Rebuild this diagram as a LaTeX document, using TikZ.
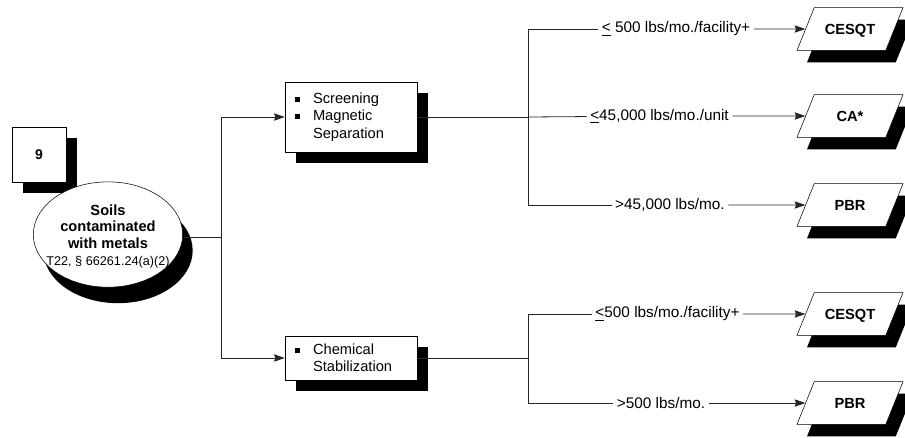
\documentclass[tikz,border=0pt]{standalone}
\usepackage{fontspec}
\setmainfont{Liberation Sans}
\usepackage{tikz}
\usetikzlibrary{arrows.meta, shapes.geometric, shadows}

\newcommand{\bul}{\makebox[13.5pt][l]{\rule[0.25ex]{3.5pt}{3.5pt}}}
\newcommand{\nobul}{\hspace*{13.5pt}}

\begin{document}
\begin{tikzpicture}[
    x=0.75pt, y=-0.75pt,
    blackshadow/.style={drop shadow={shadow xshift=8pt, shadow yshift=-8pt, fill=black, opacity=1}},
    line/.style={draw=black!85, line width=0.6pt},
    arrow/.style={line, -{Stealth[length=8pt, width=5.5pt, inset=1pt]}},
    numbox/.style={rectangle, draw, fill=white, blackshadow, minimum width=40.5pt, minimum height=41pt, font=\bfseries\fontsize{10.5}{12}\selectfont},
    blob/.style={ellipse, draw, fill=white, minimum width=112pt, minimum height=79pt, inner sep=0pt,
        drop shadow={shadow xshift=7.5pt, shadow yshift=-12pt, fill=black, opacity=1}},
    blobtext/.style={align=center, inner sep=0pt, font=\bfseries\fontsize{11}{12.5}\selectfont},
    box/.style={rectangle, draw, fill=white, blackshadow, text width=84pt, inner xsep=7.5pt, inner ysep=0pt, align=left, font=\fontsize{11}{13}\selectfont},
    para/.style={trapezium, trapezium left angle=68, trapezium right angle=112, trapezium stretches body=true, draw, fill=white,
        inner ysep=0pt, text height=20pt, text depth=12pt, minimum width=79.5pt, font=\bfseries\fontsize{11}{13}\selectfont,
        drop shadow={shadow xshift=7.5pt, shadow yshift=-9pt, fill=black, opacity=1}},
    lbl/.style={inner xsep=2.5pt, inner ysep=1pt, font=\fontsize{11.5}{13}\selectfont}
]
\useasboundingbox (0,0) rectangle (905,437);

% Waste stream
\node (num) [numbox] at (39,155) {9};
\node (soil) [blob] at (108,234.5) {};
\node (soiltext) [blobtext] at (108,236) {
    Soils\\
    contaminated\\
    with metals\\
    {\mdseries\fontsize{9.5}{13.5}\selectfont T22, § 66261.24(a)(2)}
};

% Treatment
\node (screen) [box, minimum height=52.5pt] at (351,117) {
    \bul Screening\\
    \bul Magnetic\\
    \nobul Separation
};
\node (chem) [box, minimum height=33pt] at (351,358) {
    \bul Chemical\\
    \nobul Stabilization
};

% Tiers
\node (cesqtA) [para] at (850,29) {CESQT};
\node (ca) [para] at (850,116) {CA*};
\node (pbrA) [para] at (850,205) {PBR};
\node (cesqtB) [para] at (850,314) {CESQT};
\node (pbrB) [para] at (850,403) {PBR};

% Limits
\node (limA) [lbl] at (676,29) {\underline{<} 500 lbs/mo./facility+};
\node (limB) [lbl] at (659.5,116) {\underline{<}45,000 lbs/mo./unit};
\node (limC) [lbl] at (670,205) {>45,000 lbs/mo.};
\node (limD) [lbl] at (667.5,314) {\underline{<}500 lbs/mo./facility+};
\node (limE) [lbl] at (661,403) {>500 lbs/mo.};

\coordinate (split) at (221,237);
\coordinate (splitA) at (528,117);
\coordinate (splitB) at (528,358);

% Connectors
\draw [line] (split -| soil.east) -- (split);
\draw [arrow] (split) |- (screen);
\draw [arrow] (split) |- (chem);

\draw [line] (screen) -- (splitA);
\draw [line] (splitA) |- (limA);
\draw [line] (splitA) -- (limB);
\draw [line] (splitA) |- (limC);
\draw [arrow] (limA) -- (cesqtA);
\draw [arrow] (limB) -- (ca);
\draw [arrow] (limC) -- (pbrA);

\draw [line] (chem) -- (splitB);
\draw [line] (splitB) |- (limD);
\draw [line] (splitB) |- (limE);
\draw [arrow] (limD) -- (cesqtB);
\draw [arrow] (limE) -- (pbrB);

\end{tikzpicture}
\end{document}
